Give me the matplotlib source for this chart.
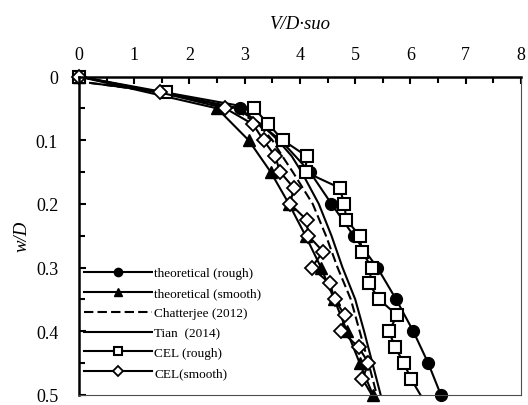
import matplotlib
matplotlib.use("Agg")
import matplotlib.pyplot as plt
from matplotlib.ticker import MultipleLocator

# w/D depth levels and V/D·suo values
theo_w = [0, 0.05, 0.1, 0.15, 0.2, 0.25, 0.3, 0.35, 0.4, 0.45, 0.5]
theo_rough_v = [0, 2.91, 3.65, 4.18, 4.57, 4.97, 5.40, 5.74, 6.05, 6.32, 6.55]
theo_smooth_v = [0, 2.5, 3.07, 3.47, 3.8, 4.1, 4.38, 4.62, 4.85, 5.08, 5.32]

curve_w = [0.01, 0.025, 0.05, 0.075, 0.1, 0.125, 0.15, 0.2, 0.25, 0.3, 0.35, 0.4, 0.45, 0.5]
chatterjee_v = [0.2, 1.5, 2.8, 3.25, 3.5, 3.68, 3.87, 4.23, 4.47, 4.68, 4.92, 5.08, 5.24, 5.39]
tian_v = [0.2, 1.55, 2.85, 3.3, 3.6, 3.85, 4.03, 4.34, 4.57, 4.77, 5.0, 5.16, 5.31, 5.46]

cel_w = [0, 0.025, 0.05, 0.075, 0.1, 0.125, 0.15, 0.175, 0.2, 0.225, 0.25,
         0.275, 0.3, 0.325, 0.35, 0.375, 0.4, 0.425, 0.45, 0.475, 0.5]
cel_rough_v = [0, 1.57, 3.17, 3.43, 3.69, 4.12, 4.1, 4.72, 4.8, 4.84, 5.08,
               5.12, 5.3, 5.25, 5.43, 5.76, 5.61, 5.72, 5.88, 6.01, 6.18]
cel_smooth_v = [0, 1.47, 2.65, 3.15, 3.34, 3.55, 3.64, 3.89, 3.82, 4.12, 4.15,
                4.42, 4.21, 4.54, 4.63, 4.81, 4.75, 5.06, 5.24, 5.13, 5.3]

x_ticks = [0, 1, 2, 3, 4, 5, 6, 7, 8]
y_ticks = [0, 0.1, 0.2, 0.3, 0.4, 0.5]
y_labels = ["0", "0.1", "0.2", "0.3", "0.4", "0.5"]

plt.rcParams["font.family"] = ["Liberation Serif", "DejaVu Serif"]

fig = plt.figure(figsize=(5.28, 4.06), dpi=100)
ax = fig.add_axes([0.1496, 0.025, 0.8371, 0.784])

lw = 1.5
ax.plot(theo_rough_v, theo_w, "-o", color="black", lw=lw, ms=8.5,
        mfc="black", mec="black", clip_on=False, label="theoretical (rough)")
ax.plot(theo_smooth_v, theo_w, "-^", color="black", lw=lw, ms=8.5,
        mfc="black", mec="black", clip_on=False, label="theoretical (smooth)")
ax.plot(chatterjee_v, curve_w, "--", color="black", lw=lw, dashes=(4.5, 2),
        label="Chatterjee (2012)")
ax.plot(tian_v, curve_w, "-", color="black", lw=lw, label="Tian  (2014)")
ax.plot(cel_rough_v, cel_w, "-s", color="black", lw=lw, ms=9,
        mfc="white", mec="black", mew=1.5, markevery=slice(0, -1),
        clip_on=False, label="CEL (rough)")
ax.plot(cel_smooth_v, cel_w, "-D", color="black", lw=lw, ms=7,
        mfc="white", mec="black", mew=1.3, markevery=slice(0, -1),
        clip_on=False, label="CEL(smooth)")

ax.set_xlim(0, 8)
ax.set_ylim(0.5, 0)
ax.xaxis.tick_top()
ax.xaxis.set_label_position("top")
ax.set_xticks(x_ticks)
ax.set_xticklabels([str(t) for t in x_ticks])
ax.set_yticks(y_ticks)
ax.set_yticklabels(y_labels)
ax.xaxis.set_minor_locator(MultipleLocator(0.5))
ax.yaxis.set_minor_locator(MultipleLocator(0.05))

ax.tick_params(axis="x", which="both", direction="in", top=True, bottom=False,
               width=1.5, labelsize=13, pad=10)
ax.tick_params(axis="x", which="major", length=5)
ax.tick_params(axis="x", which="minor", length=4)
ax.tick_params(axis="y", which="both", direction="in", left=True, right=False,
               width=1.5, labelsize=13, pad=15)
ax.tick_params(axis="y", which="major", length=5)
ax.tick_params(axis="y", which="minor", length=4)

for side in ("left", "top"):
    ax.spines[side].set_linewidth(1.8)
    ax.spines[side].set_color("black")
for side in ("right", "bottom"):
    ax.spines[side].set_linewidth(0.8)
    ax.spines[side].set_color("0.3")

ax.set_xlabel("V/D·suo", fontsize=13.5, style="italic", labelpad=13)
ax.set_ylabel("w/D", fontsize=13.5, style="italic", labelpad=4)

ax.legend(loc="lower left", bbox_to_anchor=(0.012, 0.05), frameon=False,
          fontsize=9.5, handlelength=5.1, handletextpad=0.2, markerscale=0.7,
          labelspacing=0.58, borderpad=0, borderaxespad=0)

fig.savefig("out.png", dpi=100)
